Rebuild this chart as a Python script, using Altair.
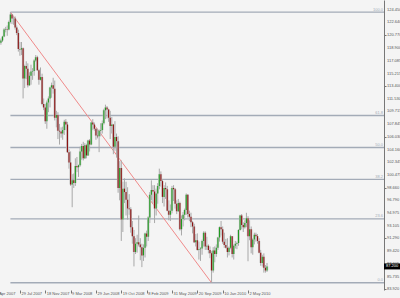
import altair as alt
import pandas as pd

# ---- weekly USD/JPY-style OHLC ----
first_week = "2007-05-06"
first_open = 119.7

closes = [
    # 2007
    120.0, 120.6, 121.6, 121.7, 121.6, 122.7, 123.8, 123.2, 123.2, 121.9, 121.1, 118.8, 118.7, 118.9,
    114.5, 116.3, 115.9, 113.5, 114.9, 115.5, 115.6, 117.1, 117.6, 115.7, 114.3, 114.7, 110.8, 110.3,
    108.3, 111.0, 111.6, 113.2, 113.5, 113.0, 108.8,
    # 2008
    109.2, 106.9, 106.8, 106.5, 107.0, 108.2, 107.8, 103.8, 102.3, 99.1, 99.7, 99.3, 101.8, 101.6,
    101.9, 103.9, 104.7, 102.9, 104.8, 103.3, 105.5, 104.9, 108.1, 107.8, 107.2, 106.2, 106.1, 106.9,
    107.0, 108.0, 109.9, 110.3, 110.0, 108.8, 107.6, 107.8, 104.6, 106.0, 105.4, 98.6, 101.5, 94.0,
    98.5, 98.0, 96.9, 95.6, 95.5, 92.9, 91.6, 89.3, 90.5, 90.7,
    # 2009
    90.4, 90.0, 88.8, 89.9, 92.0, 91.5, 94.3, 97.6, 98.3, 98.1, 95.6, 97.8, 98.9, 100.6, 99.6, 97.3,
    98.6, 98.4, 95.3, 94.7, 95.3, 98.6, 98.4, 96.3, 95.2, 96.4, 92.6, 94.1, 94.7, 95.4, 97.6, 94.8,
    94.4, 93.6, 93.0, 90.7, 91.0, 89.6, 89.7, 89.8, 90.9, 92.1, 90.1, 90.2, 89.6, 89.1, 86.6, 89.5,
    89.0, 89.9, 91.4, 92.9,
    # 2010
    92.6, 90.8, 90.3, 89.9, 89.3, 89.9, 91.6, 89.0, 90.2, 90.5, 90.6, 92.5, 94.6, 93.2, 92.9, 93.5,
    94.2, 91.6, 92.6, 90.0, 91.1, 91.8, 91.6, 90.9, 89.2, 87.7, 88.6, 87.0, 86.6, 87.2,
]

highs = [
    # 2007
    120.3, 120.7, 121.8, 122.0, 122.2, 122.9, 124.14, 123.9, 123.5, 123.5, 122.2, 121.6, 119.8, 119.8,
    119.0, 116.5, 117.0, 116.7, 115.4, 116.5, 116.0, 117.3, 117.9, 117.8, 115.9, 116.1, 115.2, 111.6,
    110.8, 111.3, 111.9, 113.3, 113.9, 114.6, 114.2,
    # 2008
    109.8, 109.6, 107.9, 107.4, 107.5, 108.5, 108.6, 108.2, 104.2, 103.9, 100.6, 100.7, 102.9, 103.1,
    102.0, 104.6, 105.0, 105.3, 105.1, 105.0, 105.6, 105.7, 108.2, 108.6, 108.1, 107.3, 107.2, 107.1,
    108.0, 108.4, 110.1, 110.7, 110.5, 110.1, 109.8, 108.9, 107.9, 108.3, 106.5, 106.1, 102.5, 102.6,
    99.5, 100.0, 99.5, 98.7, 97.7, 95.8, 93.8, 92.5, 91.3, 91.8,
    # 2009
    94.6, 91.3, 90.5, 90.4, 92.1, 92.4, 94.5, 98.0, 99.7, 99.0, 99.0, 98.5, 99.3, 101.4, 101.0, 99.9,
    99.0, 99.4, 98.9, 96.8, 96.2, 98.9, 99.0, 98.6, 96.8, 97.0, 96.6, 94.6, 95.1, 95.6, 97.8, 97.7,
    95.3, 95.0, 93.8, 93.4, 91.9, 92.0, 90.8, 90.0, 91.1, 92.3, 92.3, 91.5, 90.4, 90.1, 89.4, 90.0,
    90.1, 90.4, 91.5, 93.0,
    # 2010
    93.8, 93.0, 92.1, 91.2, 91.3, 90.1, 91.8, 91.6, 90.4, 90.9, 90.8, 92.6, 94.7, 94.8, 93.6, 93.9,
    94.99, 94.5, 93.9, 93.0, 91.3, 92.1, 92.1, 91.9, 91.3, 89.6, 88.9, 89.1, 87.4, 87.7,
]

lows = [
    # 2007
    119.4, 119.8, 120.5, 121.2, 120.7, 121.5, 122.5, 122.4, 122.3, 121.6, 120.8, 118.4, 117.8, 117.9,
    111.6, 113.1, 114.4, 113.2, 113.4, 113.6, 114.3, 114.9, 116.9, 115.6, 113.6, 114.2, 110.6, 109.9,
    107.9, 107.2, 109.6, 110.3, 111.7, 112.3, 108.4,
    # 2008
    107.4, 105.7, 104.9, 105.9, 105.6, 106.3, 107.0, 103.7, 101.4, 98.9, 95.8, 98.6, 98.9, 100.9,
    100.2, 101.7, 102.7, 102.6, 102.8, 102.9, 103.3, 103.9, 104.8, 107.0, 106.9, 105.6, 105.8, 103.8,
    106.1, 106.5, 107.8, 108.6, 108.7, 108.2, 105.7, 106.5, 103.5, 104.0, 103.0, 97.9, 96.8, 90.9,
    92.2, 96.4, 94.6, 94.0, 94.7, 92.1, 90.5, 87.2, 89.0, 89.2,
    # 2009
    90.1, 88.1, 87.1, 88.0, 88.5, 90.1, 90.9, 93.5, 96.8, 96.4, 93.5, 94.6, 96.3, 98.4, 98.8, 96.4,
    95.9, 97.0, 95.2, 93.9, 93.8, 94.9, 96.7, 95.6, 94.8, 95.1, 92.4, 91.7, 93.0, 93.9, 94.7, 94.3,
    93.8, 92.9, 92.0, 90.6, 90.1, 89.5, 88.2, 88.0, 88.9, 90.1, 89.6, 89.6, 89.1, 88.4, 84.82, 86.3,
    87.8, 88.6, 89.6, 90.8,
    # 2010
    91.7, 90.5, 89.9, 89.8, 88.5, 88.8, 89.7, 88.5, 88.2, 89.8, 89.7, 90.2, 92.4, 92.6, 92.2, 92.7,
    92.9, 87.95, 91.0, 89.1, 88.9, 90.4, 90.8, 90.5, 89.1, 87.3, 87.2, 86.3, 86.3, 86.4,
]

price_ticks = [83.920, 85.735, 87.605, 89.420, 91.290, 93.105, 94.975, 96.790, 98.660, 100.475,
               102.345, 104.160, 106.030, 107.845, 109.715, 111.530, 113.400, 115.215, 117.085,
               118.900, 120.770, 122.640, 124.450]
date_ticks = [(2007, 4, 8), (2007, 7, 29), (2007, 11, 18), (2008, 3, 9), (2008, 6, 29), (2008, 10, 19),
              (2009, 2, 8), (2009, 5, 31), (2009, 9, 20), (2010, 1, 10), (2010, 5, 2)]
date_labels = ["8 Apr 2007", "29 Jul 2007", "18 Nov 2007", "9 Mar 2008", "29 Jun 2008", "19 Oct 2008",
               "8 Feb 2009", "31 May 2009", "20 Sep 2009", "10 Jan 2010", "2 May 2010"]
fib_levels = [100.0, 61.8, 50.0, 38.2, 23.6, 0.0]
fib_labels = ["100.0", "61.8", "50.0", "38.2", "23.6", "0.0"]

# ---- tables ----
dates = list(pd.date_range(first_week, periods=len(closes), freq="7D").strftime("%Y-%m-%d"))
opens = [first_open] + closes[:-1]
df = pd.DataFrame({"date": dates, "open": opens, "high": highs, "low": lows, "close": closes})
df["dir"] = ["up" if c >= o else "down" for o, c in zip(opens, closes)]

hi_i = highs.index(max(highs))
lo_i = lows.index(min(lows))
hi, lo = highs[hi_i], lows[lo_i]
fib_df = pd.DataFrame({
    "label": fib_labels,
    "price": [lo + lv / 100.0 * (hi - lo) for lv in fib_levels],
    "start": [dates[hi_i]] * len(fib_levels),
})
trend_df = pd.DataFrame({"x": [dates[hi_i]], "y": [hi], "x2": [dates[lo_i]], "y2": [lo]})
last_df = df.tail(1).copy()
last_df["label"] = [f"{c:.3f}" for c in last_df["close"]]
ptick_df = pd.DataFrame({"price": price_ticks, "label": [f"{p:.3f}" for p in price_ticks]})
dtick_df = pd.DataFrame({"date": [f"{y:04d}-{m:02d}-{d:02d}" for y, m, d in date_ticks],
                         "label": date_labels})

FONT = "Liberation Sans"
LBL = "#555555"
xscale = alt.Scale(type="utc", domain=[alt.DateTime(year=2007, month=5, date=2, utc=True),
                                       alt.DateTime(year=2011, month=12, date=24, utc=True)])
yscale = alt.Scale(domain=[83.775, 125.90], nice=False, zero=False)

xaxis = alt.Axis(values=[alt.DateTime(year=y, month=m, date=d, utc=True) for y, m, d in date_ticks],
                 labels=False, tickSize=3, tickColor="#777", domain=False, grid=False, title=None)
yaxis = alt.Axis(orient="right", values=price_ticks, labels=False, tickSize=2, tickColor="#777",
                 domainColor="#777", grid=False, title=None)

base = alt.Chart(df)
wick = base.mark_rule(color="#a8a8a8", strokeWidth=1).encode(
    x=alt.X("date:T", scale=xscale, axis=xaxis),
    y=alt.Y("low:Q", scale=yscale, axis=yaxis),
    y2="high:Q",
)
body_shadow = base.mark_rule(color="#c6c6c6", strokeWidth=2.4).encode(
    x="date:T", y="open:Q", y2="close:Q")
body = base.mark_rule(strokeWidth=1.1).encode(
    x="date:T", y="open:Q", y2="close:Q",
    color=alt.Color("dir:N", scale=alt.Scale(domain=["up", "down"], range=["#1f9a1f", "#8b1010"]),
                    legend=None),
)

fib_lines = alt.Chart(fib_df).mark_rule(color="#a3abb7", strokeWidth=1.4).encode(
    x="start:T", x2=alt.value(384), y="price:Q")
fib_text = alt.Chart(fib_df).mark_text(align="right", baseline="bottom", fontSize=4, font=FONT,
                                       color="#a3abb7", dy=-0.5).encode(
    x=alt.value(383), y="price:Q", text="label:N")

trend = alt.Chart(trend_df).mark_rule(color="#f08a8a", strokeWidth=1).encode(
    x="x:T", y="y:Q", x2="x2:T", y2="y2:Q")

plabels = alt.Chart(ptick_df).mark_text(align="left", baseline="middle", fontSize=4, font=FONT,
                                        color=LBL).encode(
    x=alt.value(387), y="price:Q", text="label:N")

dlabels = alt.Chart(dtick_df).mark_text(align="left", baseline="middle", fontSize=4, font=FONT,
                                        color=LBL, dx=1.5, dy=4).encode(
    x="date:T", y=alt.value(290), text="label:N")

price_box = alt.Chart(last_df).mark_tick(color="#000000", size=16, thickness=6, opacity=1).encode(
    x=alt.value(392), y="close:Q")
price_text = alt.Chart(last_df).mark_text(align="left", baseline="middle", fontSize=4, font=FONT,
                                          color="#ffffff").encode(
    x=alt.value(386), y="close:Q", text="label:N")

chart = alt.layer(fib_lines, fib_text, trend, wick, body_shadow, body, dlabels, plabels,
                  price_box, price_text).properties(
    width=384, height=290,
    autosize=alt.AutoSizeParams(type="none"),
    padding={"left": 0, "right": 16, "top": 0, "bottom": 8},
    background="#f4f4f4",
).configure_view(stroke=None)

chart.save("out.html", embed_options={"renderer": "svg", "actions": False})
